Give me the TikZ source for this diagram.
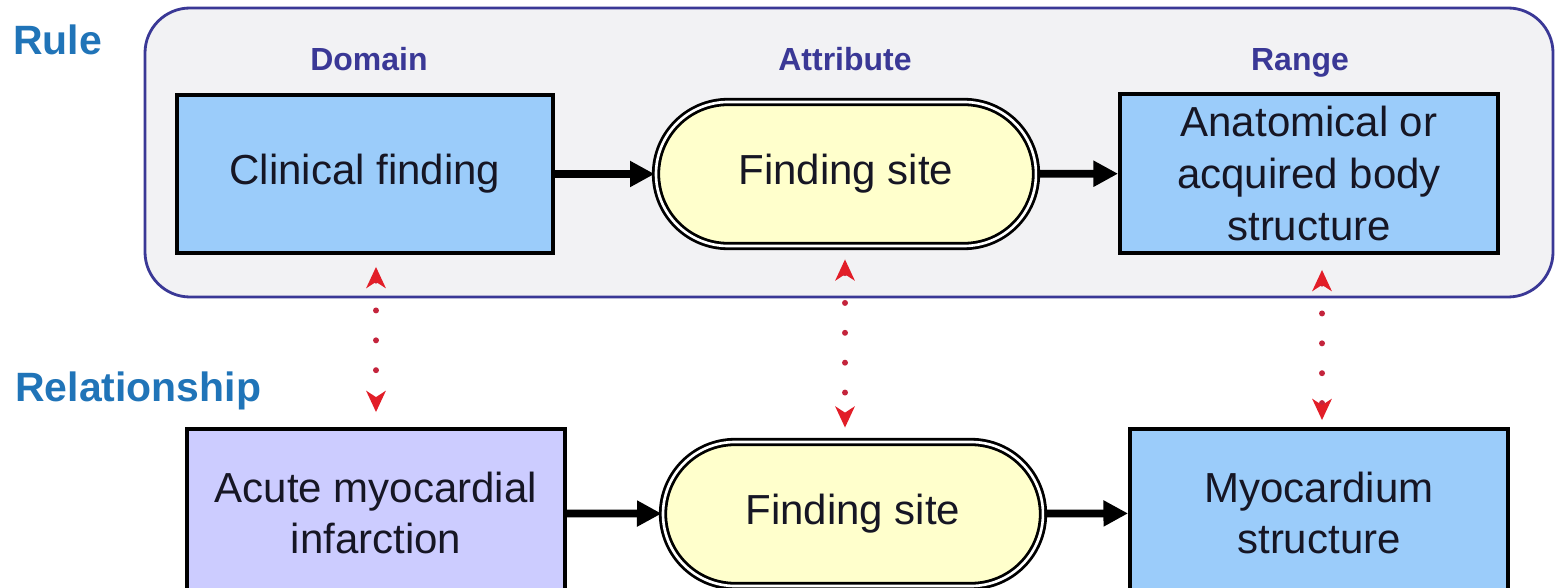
\documentclass[tikz,border=0pt]{standalone}
\usepackage{fontspec}
\setmainfont{Liberation Sans}
\usetikzlibrary{arrows.meta,calc}

\definecolor{headblue}{RGB}{32,116,184}
\definecolor{indigo}{RGB}{58,56,150}
\definecolor{panelgray}{RGB}{242,242,244}
\definecolor{boxblue}{RGB}{155,204,250}
\definecolor{boxlilac}{RGB}{204,204,255}
\definecolor{pillyellow}{RGB}{255,255,204}
\definecolor{inkdark}{RGB}{22,22,36}
\definecolor{linkred}{RGB}{226,30,40}
\definecolor{dotred}{RGB}{196,36,60}

\tikzset{
  conceptbox/.style={draw=black, line width=2.2pt, fill=boxblue, text=inkdark,
    align=center, inner sep=0pt,
    font=\fontsize{23.9}{29.5}\selectfont},
  attrpill/.style={draw=black, line width=1.6pt, double=white, double distance=1.5pt,
    fill=pillyellow, text=inkdark, rounded corners=1.44cm,
    minimum width=7.6cm, minimum height=2.88cm, inner sep=0pt,
    font=\fontsize{23.9}{29}\selectfont},
  rowlabel/.style={anchor=base west, inner sep=0pt, text=headblue,
    font=\fontsize{23.3}{28}\selectfont\bfseries},
  rolelabel/.style={anchor=base, inner sep=0pt, text=indigo,
    font=\fontsize{18.2}{22}\selectfont\bfseries},
  flow/.style={line width=4.4pt, -{Triangle[length=14pt,width=14pt]}},
  mapping/.style={dotred, line width=3.4pt, line cap=round,
    dash pattern=on 0pt off 17pt,
    {Stealth[length=12pt,width=11pt,inset=3.5pt,line cap=butt,color=linkred]}-{Stealth[length=12pt,width=11pt,inset=3.5pt,line cap=butt,color=linkred]}},
}

\begin{document}
\begin{tikzpicture}
  % page frame
  \clip (0,0) rectangle (31.24,-11.76);
  \fill[white] (0,0) rectangle (31.24,-11.76);

  % rule panel
  \draw[indigo, line width=1.6pt, fill=panelgray, rounded corners=0.9cm]
    (2.9,-0.16) rectangle (31.06,-5.94);

  % row headings
  \node[rowlabel] (rulehead) at (0.26,-1.10) {Rule};
  \node[rowlabel] (relhead) at (0.30,-8.04) {Relationship};

  % role headings
  \node[rolelabel] (domainhead) at (7.38,-1.42) {Domain};
  \node[rolelabel] (attrhead) at (16.9,-1.42) {Attribute};
  \node[rolelabel] (rangehead) at (26.0,-1.42) {Range};

  % rule row
  \node[conceptbox, minimum width=7.52cm, minimum height=3.16cm]
    (cf) at (7.30,-3.48) {Clinical finding};
  \node[attrpill] (fs1) at (16.92,-3.48) {Finding site};
  \node[conceptbox, minimum width=7.56cm, minimum height=3.18cm]
    (range) at (26.18,-3.47) {Anatomical or\\acquired body\\structure};

  % relationship row
  \node[conceptbox, fill=boxlilac, minimum width=7.56cm, minimum height=3.36cm]
    (ami) at (7.52,-10.26) {Acute myocardial\\infarction};
  \node[attrpill] (fs2) at (17.06,-10.28) {Finding site};
  \node[conceptbox, minimum width=7.56cm, minimum height=3.36cm]
    (myo) at (26.38,-10.26) {Myocardium\\structure};

  % attribute arrows
  \draw[flow] (cf) -- (fs1);
  \draw[flow] (fs1) -- (range);
  \draw[flow] (ami) -- (fs2);
  \draw[flow] (fs2) -- (myo);

  % x positions of the correspondence links
  \coordinate (linkmid) at (16.9,0);
  \coordinate (linkright) at (26.44,0);

  % rule-to-relationship correspondences
  \draw[mapping, shorten <=0.24cm, shorten >=0.30cm] (cf.south -| ami.north) -- (ami.north);
  \draw[mapping, shorten <=0.24cm, shorten >=0.26cm] (fs1.south -| linkmid) -- (fs2.north -| linkmid);
  \draw[mapping, shorten <=0.30cm, shorten >=0.14cm] (range.south -| linkright) -- (myo.north -| linkright);
\end{tikzpicture}
\end{document}
